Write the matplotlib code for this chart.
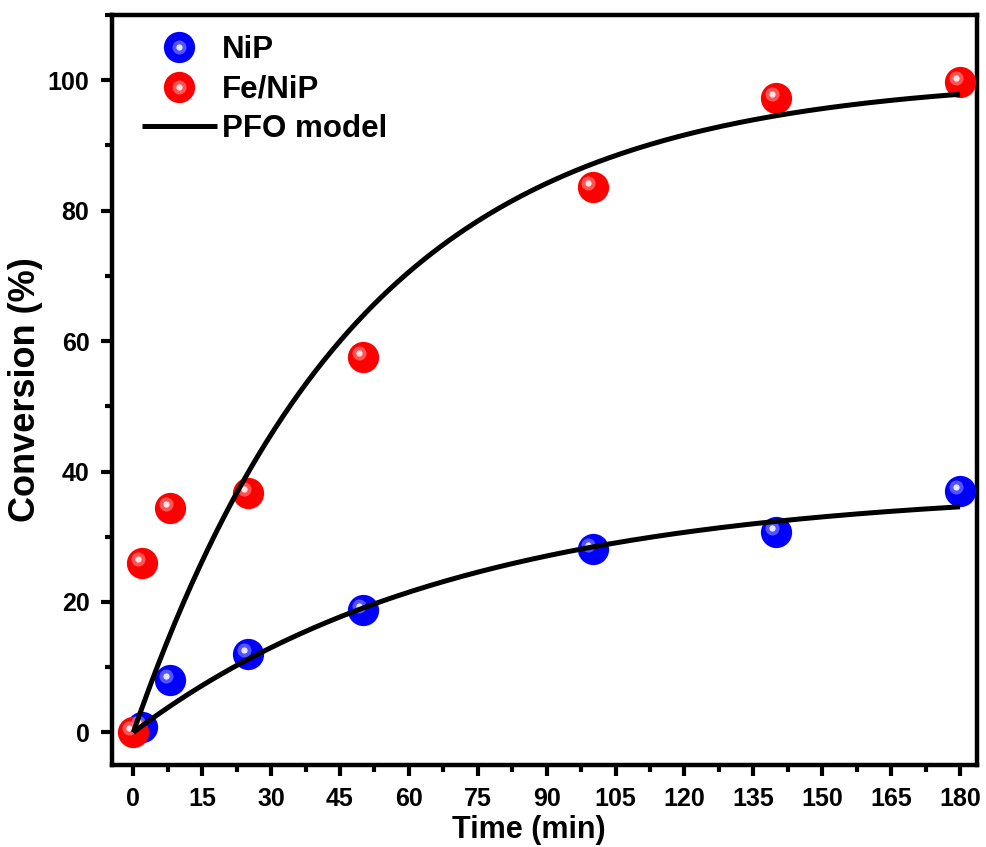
import numpy as np
import matplotlib
matplotlib.use("Agg")
import matplotlib.pyplot as plt
from matplotlib.ticker import MultipleLocator
from matplotlib.legend_handler import HandlerTuple
import matplotlib.transforms as mtrans

plt.rcParams['font.family'] = ['Liberation Sans', 'DejaVu Sans']
plt.rcParams['font.weight'] = 'bold'

# data
time_nip = [2, 8, 25, 50, 100, 140, 180]
conv_nip = [0.9, 8.0, 12.0, 18.8, 28.1, 30.7, 37.0]
time_fenip = [0, 2, 8, 25, 50, 100, 140, 180]
conv_fenip = [0.0, 26.0, 34.4, 36.7, 57.5, 83.6, 97.3, 99.7]

# PFO model parameters (qe, k)
pfo_nip = (37.5, 0.0142)
pfo_fenip = (100.5, 0.0202)
t_model = np.linspace(0, 180, 300)

fig = plt.figure(figsize=(9.86, 8.47), dpi=100)
ax = fig.add_axes([0.1133, 0.0968, 0.8776, 0.8855])

def sphere(x, y, color, light):
    ms = 22.5
    h1, = ax.plot(x, y, 'o', ms=ms, color=color, mec='none', zorder=6)
    tr = mtrans.offset_copy(ax.transData, fig=fig, x=-3, y=3, units='points')
    h2, = ax.plot(x, y, 'o', ms=ms * 0.45, color=light, mec='none', alpha=0.55,
                  transform=tr, zorder=7)
    h3, = ax.plot(x, y, 'o', ms=ms * 0.2, color='white', mec='none', alpha=0.85,
                  transform=tr, zorder=8)
    return (h1, h2, h3)

for qe, k in (pfo_nip, pfo_fenip):
    lm, = ax.plot(t_model, qe * (1 - np.exp(-k * t_model)), color='black', lw=3.6,
                  zorder=9, solid_capstyle='butt')

hn = sphere(time_nip, conv_nip, '#0000ff', '#9a9aff')
hf = sphere(time_fenip, conv_fenip, '#ff0000', '#ff9a9a')

ax.set_xlim(-4.7, 183.7)
ax.set_ylim(-5, 110)
ax.xaxis.set_major_locator(MultipleLocator(15))
ax.xaxis.set_minor_locator(MultipleLocator(7.5))
ax.yaxis.set_major_locator(MultipleLocator(20))
ax.yaxis.set_minor_locator(MultipleLocator(10))
ax.tick_params(which='major', direction='out', length=8, width=3, labelsize=18, pad=8)
ax.tick_params(which='minor', direction='out', length=5, width=3)
for lab in ax.get_xticklabels() + ax.get_yticklabels():
    lab.set_fontweight('bold')
for s in ax.spines.values():
    s.set_linewidth(3.2)

ax.set_xlabel('Time (min)', fontsize=22, fontweight='bold')
ax.set_ylabel('Conversion (%)', fontsize=26, fontweight='bold')
ax.xaxis.set_label_coords(0.482, -0.067)
ax.yaxis.set_label_coords(-0.079, 0.5)

leg = ax.legend([hn, hf, lm], ['NiP', 'Fe/NiP', 'PFO model'],
                handler_map={tuple: HandlerTuple(ndivide=1)},
                loc='upper left', bbox_to_anchor=(0.035, 0.973), frameon=False,
                handlelength=2.4, handletextpad=0.16, labelspacing=0.3,
                borderpad=0, borderaxespad=0, prop={'weight': 'bold', 'size': 22.5})

fig.savefig('out.png', dpi=100)
